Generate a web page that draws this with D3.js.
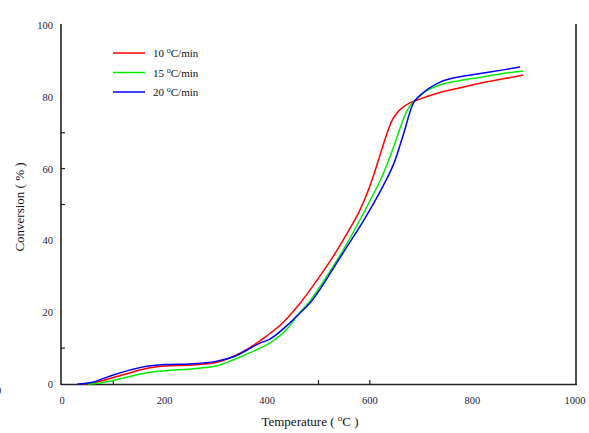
<html>
<head>
<script src="https://cdn.jsdelivr.net/npm/d3@7"></script>
<style>
  body { margin: 0; background: #fff; }
  text { font-family: "Liberation Serif", "DejaVu Serif", serif; }
</style>
</head>
<body>
<script>
var w = 589;
var h = 433;

// series (temperature in C, conversion in %)
var seriesNames = ["10 \u00B0C/min", "15 \u00B0C/min", "20 \u00B0C/min"];
var seriesColors = ["#ff0000", "#00ee00", "#0000ff"];

var temp10 = [40, 60, 80, 100, 130, 160, 200, 250, 300, 350, 400, 430, 464, 500, 528, 560, 581, 606, 620, 633, 643, 653, 665, 678, 700, 737, 776, 815, 860, 899];
var conv10 = [0, 0.3, 1, 1.8, 3, 4.2, 5, 5.3, 6, 8.8, 13.5, 17, 22.5, 29.5, 35.4, 43, 48.5, 57.5, 63.8, 69.6, 73.3, 75.5, 77.1, 78.3, 79.5, 81.2, 82.5, 83.8, 85, 86];

var temp15 = [50, 70, 100, 130, 160, 200, 250, 300, 333, 386, 405, 440, 464, 483, 500, 546, 594, 626, 640, 655, 672, 690, 737, 776, 815, 860, 899];
var conv15 = [0, 0.2, 1, 2, 3, 3.7, 4.2, 5, 6.7, 10, 11.4, 15.5, 20, 23, 26.5, 36.8, 49.3, 58.5, 63.5, 69.6, 76, 79.3, 83.3, 84.5, 85.4, 86.5, 87.2];

var temp20 = [30, 60, 80, 100, 130, 160, 200, 250, 300, 333, 386, 405, 444, 464, 483, 528, 550, 594, 630, 648, 665, 684, 700, 737, 776, 815, 860, 893];
var conv20 = [0, 0.5, 1.5, 2.5, 3.8, 4.8, 5.4, 5.6, 6.3, 7.5, 11.4, 12.5, 17, 19.8, 22.5, 32, 37, 47, 56.3, 61.8, 69.3, 78, 80.6, 84.1, 85.6, 86.5, 87.5, 88.3];

var xTickLabels = [0, 200, 400, 600, 800, 1000];
var yTickLabels = [0, 20, 40, 60, 80, 100];
var xMinorTicks = [100, 500, 600];
var yMinorTicks = [10, 50, 60, 70];

var series = [
    {name: seriesNames[0], color: seriesColors[0], t: temp10, c: conv10},
    {name: seriesNames[1], color: seriesColors[1], t: temp15, c: conv15},
    {name: seriesNames[2], color: seriesColors[2], t: temp20, c: conv20}
];

var svg = d3.select("body").append("svg")
    .attr("width", w)
    .attr("height", h);

var x = d3.scaleLinear().domain([0, 1000]).range([62, 575]);
var y = d3.scaleLinear().domain([0, 100]).range([384, 25]);

var axisColor = "#222";
var labelColor = "#1d2238";

// axis lines: left, bottom, right
svg.append("line").attr("x1", 61).attr("x2", 61).attr("y1", 24).attr("y2", 385)
    .attr("stroke", axisColor).attr("stroke-width", 1.6);
svg.append("line").attr("x1", 61).attr("x2", 577).attr("y1", 384.5).attr("y2", 384.5)
    .attr("stroke", axisColor).attr("stroke-width", 1.6);
svg.append("line").attr("x1", 576).attr("x2", 576).attr("y1", 24).attr("y2", 385)
    .attr("stroke", axisColor).attr("stroke-width", 1.6);

// minor inner ticks
svg.selectAll(".ytick").data(yMinorTicks).enter().append("line")
    .attr("x1", 61).attr("x2", 65)
    .attr("y1", function(d){ return y(d); })
    .attr("y2", function(d){ return y(d); })
    .attr("stroke", axisColor).attr("stroke-width", 1.2);
svg.selectAll(".xtick").data(xMinorTicks).enter().append("line")
    .attr("x1", function(d){ return x(d); })
    .attr("x2", function(d){ return x(d); })
    .attr("y1", 384).attr("y2", 380)
    .attr("stroke", axisColor).attr("stroke-width", 1.2);

// tick labels
svg.selectAll(".ylab").data(yTickLabels).enter().append("text")
    .attr("x", 53)
    .attr("y", function(d){ return y(d) + 4; })
    .attr("text-anchor", "end")
    .attr("font-size", 10.5)
    .attr("fill", labelColor)
    .text(function(d){ return d; });

svg.selectAll(".xlab").data(xTickLabels).enter().append("text")
    .attr("x", function(d){ return x(d); })
    .attr("y", 404)
    .attr("text-anchor", "middle")
    .attr("font-size", 10.5)
    .attr("fill", labelColor)
    .text(function(d){ return d; });

// stray clipped label at the far left (as in the source image)
svg.append("text").attr("x", -4).attr("y", 394)
    .attr("font-size", 10.5).attr("fill", labelColor).text("0");

// axis titles
svg.append("text")
    .attr("x", 310).attr("y", 426)
    .attr("text-anchor", "middle")
    .attr("font-size", 13)
    .attr("fill", "#111")
    .html("Temperature ( <tspan font-size='9' dy='-5'>o</tspan><tspan dy='5'>C )</tspan>");

svg.append("text")
    .attr("transform", "translate(24,207) rotate(-90)")
    .attr("text-anchor", "middle")
    .attr("font-size", 13)
    .attr("fill", "#111")
    .text("Conversion ( % )");

// curves
var line = d3.line()
    .x(function(d){ return x(d[0]); })
    .y(function(d){ return y(d[1]); })
    .curve(d3.curveMonotoneX);

series.forEach(function(s){
    var pts = s.t.map(function(t, i){ return [t, s.c[i]]; });
    svg.append("path")
        .attr("d", line(pts))
        .attr("fill", "none")
        .attr("stroke", s.color)
        .attr("stroke-width", 1.5);
});

// legend
series.forEach(function(s, i){
    var ly = 53 + i * 19.5;
    svg.append("line").attr("x1", 113).attr("x2", 145).attr("y1", ly).attr("y2", ly)
        .attr("stroke", s.color).attr("stroke-width", 1.5);
    var parts = s.name.split(" ");
    svg.append("text").attr("x", 153).attr("y", ly + 4)
        .attr("font-size", 11).attr("fill", "#111")
        .html(parts[0] + " <tspan font-size='8' dy='-4'>o</tspan><tspan dy='4'>C/min</tspan>");
});
</script>
</body>
</html>
